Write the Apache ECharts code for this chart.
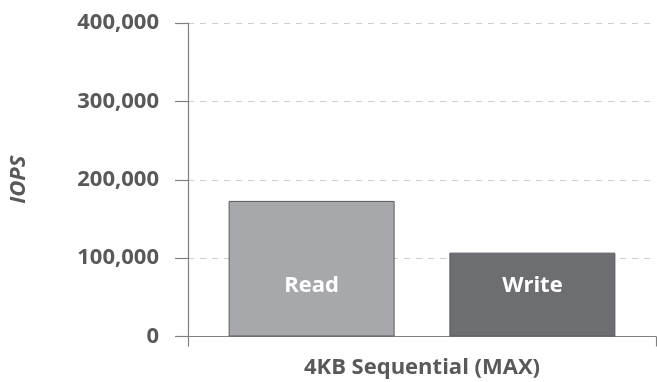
<!DOCTYPE html>
<html>
<head>
<meta charset="utf-8">
<script src="https://cdn.jsdelivr.net/npm/echarts@6/dist/echarts.min.js"></script>
<style>
  html, body { margin: 0; padding: 0; background: #fff; }
  #chart { width: 657px; height: 382px; }
</style>
</head>
<body>
<div id="chart"></div>
<script>
// IOPS for a 4KB sequential workload at maximum queue depth
const categories = ['4KB Sequential (MAX)'];
const seriesNames = ['Read', 'Write'];
const readIops = [173000];
const writeIops = [107000];
const axisMin = 0;
const axisMax = 400000;
const axisStep = 100000;

const textColor = '#58595b';
const fontFamily = '"Open Sans", "Liberation Sans", sans-serif';
const fontWeight = 700;

const chart = echarts.init(document.getElementById('chart'), null, { renderer: 'canvas' });

function barSeries(name, values, color) {
  return {
    name: name,
    type: 'bar',
    data: values,
    barWidth: 166,
    barGap: '33%',
    itemStyle: { color: color, borderColor: '#5a5b5e', borderWidth: 1 },
    label: {
      show: true,
      position: 'insideBottom',
      distance: 40,
      formatter: name,
      color: '#ffffff',
      fontFamily: fontFamily,
      fontWeight: fontWeight,
      fontSize: 22
    }
  };
}

chart.setOption({
  animation: false,
  grid: { left: 187, right: 1, top: 23, bottom: 45.5, containLabel: false },
  xAxis: {
    type: 'category',
    data: categories,
    axisLine: { lineStyle: { color: '#808080', width: 1.2 } },
    axisTick: { show: true, length: 10, lineStyle: { color: '#808080', width: 1.2 } },
    axisLabel: {
      margin: 20,
      color: textColor,
      fontFamily: fontFamily,
      fontWeight: fontWeight,
      fontSize: 22,
      lineHeight: 22
    }
  },
  yAxis: {
    type: 'value',
    min: axisMin,
    max: axisMax,
    interval: axisStep,
    name: 'IOPS',
    nameLocation: 'middle',
    nameRotate: 90,
    nameGap: 158,
    nameTextStyle: {
      color: textColor,
      fontFamily: fontFamily,
      fontWeight: fontWeight,
      fontStyle: 'italic',
      fontSize: 22
    },
    axisLine: { show: true, lineStyle: { color: '#808080', width: 1.2 } },
    axisTick: { show: true, length: 13, lineStyle: { color: '#808080', width: 1.2 } },
    axisLabel: {
      margin: 29,
      color: textColor,
      fontFamily: fontFamily,
      fontWeight: fontWeight,
      fontSize: 22,
      formatter: v => v.toLocaleString('en-US')
    },
    splitLine: { show: true, lineStyle: { color: '#cfcfcf', type: [6, 6], width: 1 } }
  },
  series: [
    barSeries(seriesNames[0], readIops, '#a7a8ab'),
    barSeries(seriesNames[1], writeIops, '#6d6e71')
  ]
});
</script>
</body>
</html>
